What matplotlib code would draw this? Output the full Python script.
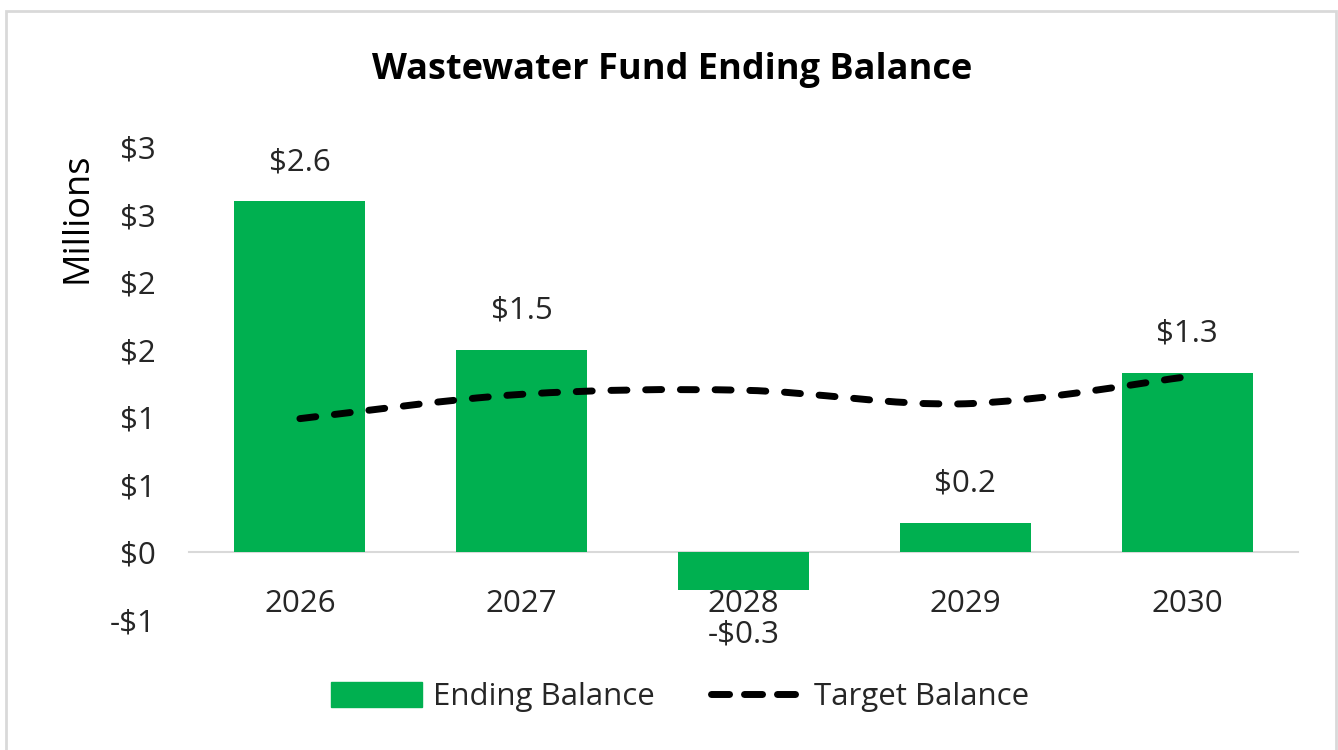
import matplotlib
matplotlib.use("Agg")
import matplotlib.pyplot as plt
from matplotlib.path import Path
from matplotlib.patches import PathPatch, Rectangle
from matplotlib.lines import Line2D
import numpy as np

# data (millions of dollars)
years = ['2026', '2027', '2028', '2029', '2030']
ending_balance = [2.6, 1.5, -0.28, 0.22, 1.33]
bar_labels = ['$2.6', '$1.5', '-$0.3', '$0.2', '$1.3']
target_balance = [0.99, 1.17, 1.20, 1.10, 1.30]
y_ticks = [-0.5, 0, 0.5, 1.0, 1.5, 2.0, 2.5, 3.0]
y_tick_labels = ['-$1', '$0', '$1', '$1', '$2', '$2', '$3', '$3']

GREEN = '#00B050'
TEXT = '#262626'
FONT = 'Open Sans'
FS = 22.5

plt.rcParams['font.family'] = [FONT, 'DejaVu Sans']


def smooth_path(xs, ys):
    """Catmull-Rom style bezier path through the points (like Excel smoothed line)."""
    pts = np.column_stack([xs, ys]).astype(float)
    ext = np.vstack([pts[0], pts, pts[-1]])
    verts = [tuple(pts[0])]
    codes = [Path.MOVETO]
    for i in range(1, len(ext) - 2):
        p0, p1, p2, p3 = ext[i - 1], ext[i], ext[i + 1], ext[i + 2]
        c1 = p1 + (p2 - p0) / 6.0
        c2 = p2 - (p3 - p1) / 6.0
        verts += [tuple(c1), tuple(c2), tuple(p2)]
        codes += [Path.CURVE4] * 3
    return Path(verts, codes)


fig = plt.figure(figsize=(13.38, 7.5), dpi=100)
ax = fig.add_axes([189 / 1338, 1 - 620 / 750, (1298 - 189) / 1338, (620 - 147) / 750])

x = np.arange(len(years))
ax.bar(x, ending_balance, width=0.59, color=GREEN, zorder=2)

line = PathPatch(smooth_path(x, target_balance), fill=False, edgecolor='black',
                 linewidth=5, linestyle=(0, (2.3, 2.7)), capstyle='round', zorder=3)
ax.add_patch(line)

for xi, v, lab in zip(x, ending_balance, bar_labels):
    off = 28 if v >= 0 else -32
    ax.annotate(lab, (xi, v), xytext=(0, off), textcoords='offset points',
                ha='center', va='center', fontsize=FS, color=TEXT)

ax.set_xlim(-0.5, len(years) - 0.5)
ax.set_ylim(-0.5, 3.0)
ax.set_yticks(y_ticks)
ax.set_yticklabels(y_tick_labels)
ax.set_xticks(x)
ax.set_xticklabels(years)
ax.tick_params(axis='both', length=0, labelsize=FS, labelcolor=TEXT)
ax.tick_params(axis='y', pad=24)
ax.tick_params(axis='x', pad=26)
for s in ['top', 'right', 'left']:
    ax.spines[s].set_visible(False)
# category axis sits on the zero line
ax.spines['bottom'].set_position(('data', 0))
ax.spines['bottom'].set_color('#d9d9d9')
ax.spines['bottom'].set_linewidth(1.5)
ax.spines['bottom'].set_zorder(1)

fig.text(78 / 1338, 1 - 218 / 750, 'Millions', rotation=90, ha='center', va='center',
         fontsize=26, color='black')
fig.text(672 / 1338, 1 - 70 / 750, 'Wastewater Fund Ending Balance', ha='center',
         va='center', fontsize=26, fontweight='bold', color='black')

handles = [Rectangle((0, 0), 1, 1, color=GREEN),
           Line2D([0], [0], color='black', linewidth=5, linestyle=(0, (2.6, 2.15)),
                  dash_capstyle='round')]
fig.legend(handles, ['Ending Balance', 'Target Balance'], loc='center',
           bbox_to_anchor=(680 / 1338, 1 - 697 / 750), ncol=2, frameon=False,
           fontsize=FS, handlelength=2.9, handleheight=0.86, columnspacing=1.8,
           handletextpad=0.38, labelcolor=TEXT)

fig.patches.append(Rectangle((6 / 1338, -0.05), (1336 - 6) / 1338, 1 - 11 / 750 + 0.05,
                             transform=fig.transFigure, fill=False,
                             edgecolor='#d9d9d9', linewidth=2))

fig.savefig('out.png', dpi=100, facecolor='white')
